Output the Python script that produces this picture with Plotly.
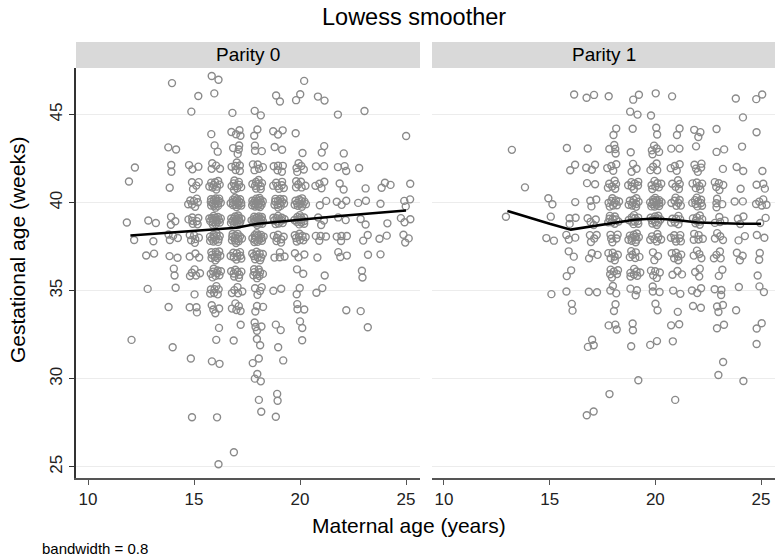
import math
import plotly.graph_objects as go

# ---------------- data ----------------
# counts of births per (maternal age, gestational week) cell
PARITY0 = {
    12: {42: 1, 41: 1, 39: 1, 38: 1, 32: 1},
    13: {39: 2, 38: 1, 37: 2, 35: 1},
    14: {47: 1, 43: 2, 42: 2, 41: 1, 39: 3, 38: 4, 37: 2, 36: 2, 35: 1, 34: 1, 32: 1},
    15: {46: 1, 45: 1, 42: 3, 41: 4, 40: 7, 39: 7, 38: 6, 37: 3, 36: 5, 35: 1, 34: 3, 31: 1, 28: 1},
    16: {47: 2, 46: 1, 44: 1, 43: 2, 42: 4, 41: 9, 40: 15, 39: 15, 38: 12, 37: 10, 36: 9, 35: 7,
         34: 4, 33: 1, 32: 1, 31: 2, 28: 1, 25: 1},
    17: {45: 1, 44: 4, 43: 4, 42: 6, 41: 9, 40: 15, 39: 15, 38: 12, 37: 9, 36: 8, 35: 5, 34: 5,
         33: 1, 32: 1, 26: 1},
    18: {45: 2, 44: 2, 43: 3, 42: 5, 41: 9, 40: 17, 39: 17, 38: 14, 37: 10, 36: 9, 35: 4, 34: 3,
         33: 4, 32: 2, 31: 2, 30: 3, 29: 1, 28: 1},
    19: {46: 2, 44: 3, 43: 2, 42: 5, 41: 7, 40: 12, 39: 12, 38: 7, 37: 4, 35: 2, 33: 2, 32: 1,
         31: 1, 29: 2, 28: 1},
    20: {47: 1, 46: 2, 44: 1, 43: 1, 42: 5, 41: 6, 40: 12, 39: 12, 38: 9, 37: 3, 36: 2, 35: 2,
         34: 3, 33: 2, 32: 1},
    21: {46: 2, 43: 2, 42: 2, 41: 4, 40: 2, 39: 3, 38: 4, 37: 1, 36: 1, 35: 2},
    22: {45: 1, 43: 1, 42: 3, 41: 2, 40: 3, 39: 2, 38: 4, 37: 3, 34: 1},
    23: {45: 1, 42: 1, 41: 1, 40: 2, 39: 2, 38: 2, 37: 1, 36: 2, 34: 1, 33: 1},
    24: {41: 3, 40: 1, 39: 1, 38: 2, 37: 1},
    25: {44: 1, 41: 1, 40: 3, 39: 3, 38: 3},
}
PARITY1 = {
    13: {43: 1, 39: 1},
    14: {41: 1},
    15: {40: 2, 39: 1, 38: 2, 35: 1},
    16: {46: 1, 43: 1, 42: 2, 40: 1, 39: 3, 38: 3, 37: 2, 36: 2, 35: 1, 34: 2},
    17: {46: 2, 43: 1, 42: 3, 41: 2, 40: 3, 39: 4, 38: 4, 37: 3, 35: 2, 32: 3, 28: 2},
    18: {46: 1, 44: 2, 43: 4, 42: 4, 41: 6, 40: 9, 39: 9, 38: 5, 37: 6, 36: 6, 35: 3, 34: 2,
         33: 3, 29: 1},
    19: {46: 2, 45: 2, 44: 1, 43: 1, 42: 3, 41: 7, 40: 9, 39: 10, 38: 10, 37: 6, 36: 7, 35: 3,
         33: 2, 32: 1, 30: 1},
    20: {46: 1, 45: 1, 44: 2, 43: 5, 42: 4, 41: 7, 40: 14, 39: 11, 38: 7, 37: 3, 36: 5, 35: 3,
         34: 2, 32: 2},
    21: {46: 1, 44: 2, 43: 2, 42: 4, 41: 5, 40: 7, 39: 7, 38: 7, 37: 6, 36: 3, 35: 2, 34: 1,
         33: 2, 32: 1, 29: 1},
    22: {44: 3, 43: 1, 42: 5, 41: 6, 40: 9, 39: 8, 38: 5, 37: 4, 36: 3, 35: 3, 34: 2},
    23: {44: 1, 43: 2, 42: 1, 41: 5, 40: 4, 39: 4, 38: 4, 37: 4, 36: 2, 35: 3, 34: 3, 33: 2,
         31: 1, 30: 1},
    24: {46: 1, 45: 1, 43: 1, 42: 2, 41: 1, 40: 2, 39: 3, 38: 2, 37: 3, 35: 1, 34: 1, 30: 1},
    25: {46: 2, 44: 1, 42: 1, 41: 3, 40: 5, 39: 2, 38: 2, 37: 2, 36: 1, 35: 2, 33: 2, 32: 1},
}

LOWESS0_AGE = [12, 13, 14, 15, 16, 17, 18, 19, 20, 21, 22, 23, 24, 25]
LOWESS0_FIT = [38.13, 38.22, 38.31, 38.40, 38.48, 38.58, 38.80, 38.93, 39.03, 39.15, 39.26,
               39.37, 39.47, 39.56]
LOWESS1_AGE = [13, 14, 15, 16, 17, 18, 19, 20, 21, 22, 23, 24, 25]
LOWESS1_FIT = [39.53, 39.15, 38.80, 38.47, 38.65, 38.85, 39.03, 39.10, 39.02, 38.88, 38.82,
               38.80, 38.80]

X_TICKS = [10, 15, 20, 25]
Y_TICKS = [25, 30, 35, 40, 45]

# ---------------- display jitter (layout only) ----------------
JX, JY = 0.30, 0.30
GOLD = math.pi * (3 - math.sqrt(5))


def jittered(cells):
    xs, ys = [], []
    ci = 0
    for age, weeks in cells.items():
        for wk, n in weeks.items():
            rot = ci * 1.9
            for k in range(n):
                r = math.sqrt((k + 0.6) / (n + 0.2))
                th = rot + k * GOLD
                xs.append(age + JX * r * math.cos(th))
                ys.append(wk + JY * r * math.sin(th))
            ci += 1
    return xs, ys


W, H = 775, 560
L0, R0 = 76, 420
L1, R1 = 432, 775
TOP, BOT = 68, 478


def px(v):
    return v / W


def py(v):
    return 1 - v / H


FONT = "Liberation Sans, Arial, sans-serif"
PT_COLOR = "#8a8a8a"

fig = go.Figure()
for i, (cells, la, lf) in enumerate([(PARITY0, LOWESS0_AGE, LOWESS0_FIT),
                                      (PARITY1, LOWESS1_AGE, LOWESS1_FIT)]):
    xs, ys = jittered(cells)
    xa = "x" if i == 0 else "x2"
    ya = "y" if i == 0 else "y2"
    fig.add_trace(go.Scatter(
        x=xs, y=ys, mode="markers", xaxis=xa, yaxis=ya, showlegend=False,
        marker=dict(symbol="circle-open", size=7, color=PT_COLOR, line=dict(width=1.4, color=PT_COLOR)),
        hoverinfo="skip"))
    fig.add_trace(go.Scatter(
        x=la, y=lf, mode="lines", xaxis=xa, yaxis=ya, showlegend=False,
        line=dict(color="black", width=2.5), hoverinfo="skip"))

XR = [9.434, 25.66]
YR = [24.36, 47.65]
common_x = dict(range=XR, tickvals=X_TICKS, ticks="outside", ticklen=5, tickwidth=1.2,
                tickcolor="#555", showline=True, linecolor="#555", linewidth=1.5,
                showgrid=False, zeroline=False,
                tickfont=dict(family=FONT, size=17, color="#222"), fixedrange=True)
common_y = dict(range=YR, tickvals=Y_TICKS, showgrid=True, gridcolor="#ececec", gridwidth=1,
                zeroline=False, fixedrange=True)

fig.update_layout(
    width=W, height=H, margin=dict(l=0, r=0, t=0, b=0),
    paper_bgcolor="white", plot_bgcolor="white",
    xaxis=dict(domain=[px(L0), px(R0)], anchor="y", **common_x),
    xaxis2=dict(domain=[px(L1), px(R1)], anchor="y2", **common_x),
    yaxis=dict(domain=[py(BOT), py(TOP)], anchor="x", ticks="outside", ticklen=5,
               tickcolor="#333", showline=True, linecolor="#333", linewidth=1.5,
               tickangle=-90, tickfont=dict(family=FONT, size=17, color="#222"), **common_y),
    yaxis2=dict(domain=[py(BOT), py(TOP)], anchor="x2", showticklabels=False, ticks="",
                showline=False, **common_y),
    shapes=[
        dict(type="rect", xref="paper", yref="paper", x0=px(L0), x1=px(R0), y0=py(TOP), y1=py(42),
             fillcolor="#d9d9d9", line=dict(width=0), layer="below"),
        dict(type="rect", xref="paper", yref="paper", x0=px(L1), x1=px(R1), y0=py(TOP), y1=py(42),
             fillcolor="#d9d9d9", line=dict(width=0), layer="below"),
    ],
    annotations=[
        dict(text="Lowess smoother", x=px(414), y=py(17), xref="paper", yref="paper",
             showarrow=False, font=dict(family=FONT, size=23.5, color="black"),
             xanchor="center", yanchor="middle"),
        dict(text="Parity 0", x=px((L0 + R0) / 2), y=py(55), xref="paper", yref="paper",
             showarrow=False, font=dict(family=FONT, size=19, color="black"),
             xanchor="center", yanchor="middle"),
        dict(text="Parity 1", x=px((L1 + R1) / 2), y=py(55), xref="paper", yref="paper",
             showarrow=False, font=dict(family=FONT, size=19, color="black"),
             xanchor="center", yanchor="middle"),
        dict(text="Maternal age (years)", x=px(409), y=py(525), xref="paper", yref="paper",
             showarrow=False, font=dict(family=FONT, size=21, color="black"),
             xanchor="center", yanchor="middle"),
        dict(text="Gestational age (weeks)", x=px(18), y=py(250), xref="paper", yref="paper",
             showarrow=False, textangle=-90, font=dict(family=FONT, size=21, color="black"),
             xanchor="center", yanchor="middle"),
        dict(text="bandwidth = 0.8", x=px(40), y=py(548), xref="paper", yref="paper",
             showarrow=False, font=dict(family=FONT, size=15, color="black"),
             xanchor="left", yanchor="middle"),
    ],
)

fig.write_html("out.html", config={"displayModeBar": False},
               post_script="document.body.style.margin='0';document.body.style.overflow='hidden';")
